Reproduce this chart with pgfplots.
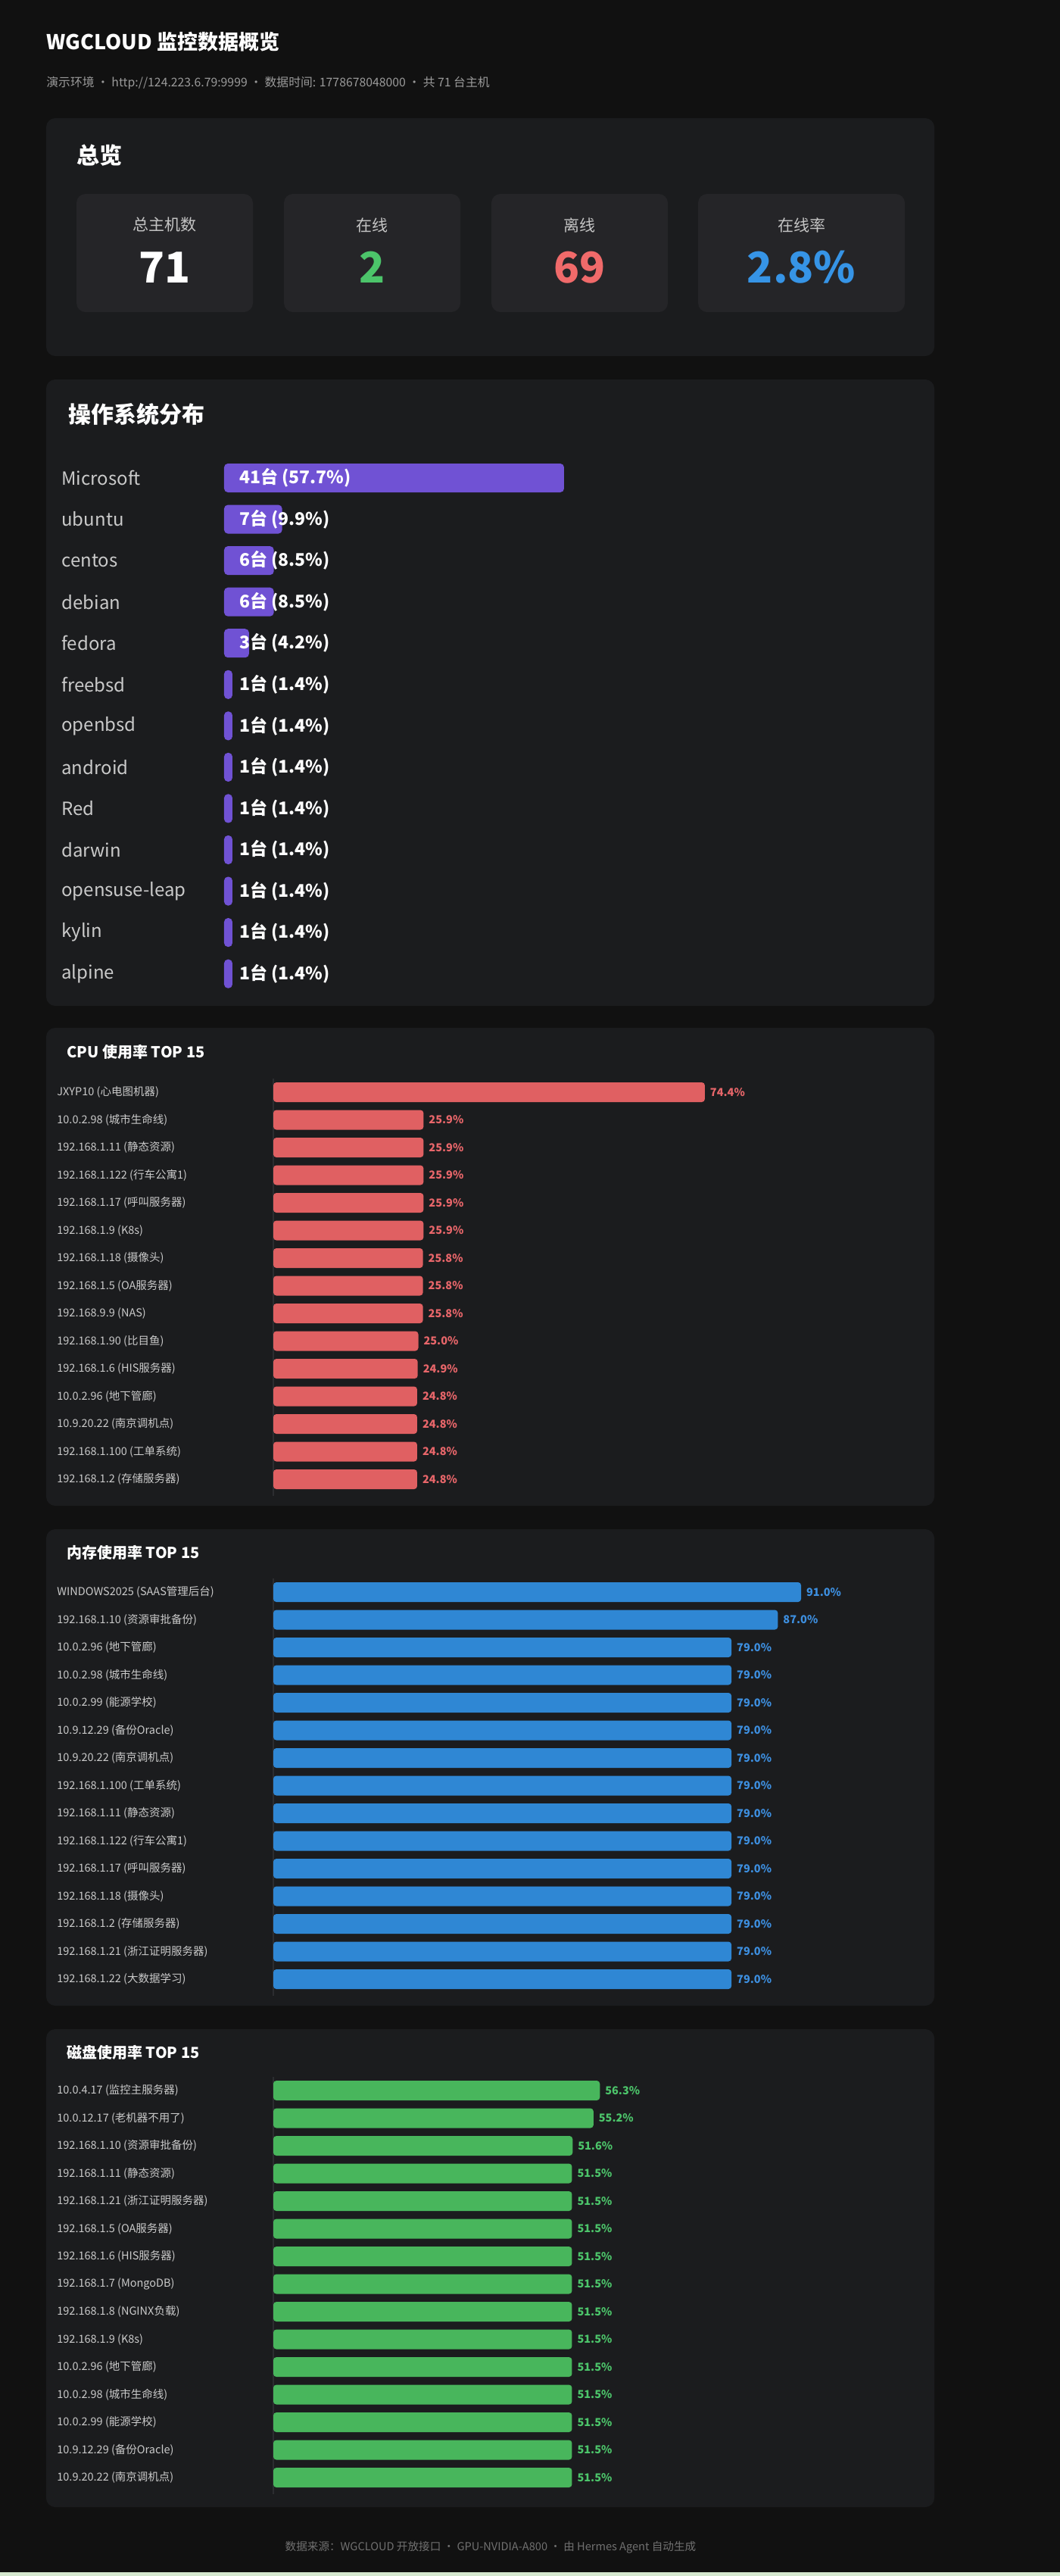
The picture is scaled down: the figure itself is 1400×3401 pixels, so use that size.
\documentclass[border=0pt]{standalone}
\usepackage{fontspec}
\setmainfont{Noto Sans CJK SC}
\usepackage{pgfplots}
\usepackage{pgfplotstable}
\pgfplotsset{compat=1.18}

\definecolor{pagebg}{HTML}{111111}
\definecolor{cardbg}{HTML}{1B1C1E}
\definecolor{boxbg}{HTML}{252528}
\definecolor{subgrey}{HTML}{9A9A9A}
\definecolor{footgrey}{HTML}{707070}
\definecolor{labgrey}{HTML}{CACACA}
\definecolor{boxlab}{HTML}{C4C4C4}
\definecolor{linegrey}{HTML}{2C2D30}
\definecolor{osbar}{HTML}{7052D4}
\definecolor{cpubar}{HTML}{E06062}
\definecolor{cputxt}{HTML}{E8666A}
\definecolor{membar}{HTML}{2F87D4}
\definecolor{memtxt}{HTML}{3D8FE0}
\definecolor{diskbar}{HTML}{48B65C}
\definecolor{disktxt}{HTML}{4CC46A}
\definecolor{okgreen}{HTML}{4CC46A}
\definecolor{badred}{HTML}{F06A6A}
\definecolor{rateblue}{HTML}{3694E6}
\definecolor{stripgreen}{HTML}{D5E8CF}

\newcommand{\fsz}[1]{\fontsize{#1}{#1}\selectfont}

\pgfplotstableread[col sep=comma, row sep=\\]{
i,n,name,lab\\
0,41,Microsoft,41台 (57.7\%)\\
1,7,ubuntu,7台 (9.9\%)\\
2,6,centos,6台 (8.5\%)\\
3,6,debian,6台 (8.5\%)\\
4,3,fedora,3台 (4.2\%)\\
5,1,freebsd,1台 (1.4\%)\\
6,1,openbsd,1台 (1.4\%)\\
7,1,android,1台 (1.4\%)\\
8,1,Red,1台 (1.4\%)\\
9,1,darwin,1台 (1.4\%)\\
10,1,opensuse-leap,1台 (1.4\%)\\
11,1,kylin,1台 (1.4\%)\\
12,1,alpine,1台 (1.4\%)\\
}\osdata

\pgfplotstableread[col sep=comma, row sep=\\]{
i,v,name\\
0,74.4,JXYP10 (心电图机器)\\
1,25.9,10.0.2.98 (城市生命线)\\
2,25.9,192.168.1.11 (静态资源)\\
3,25.9,192.168.1.122 (行车公寓1)\\
4,25.9,192.168.1.17 (呼叫服务器)\\
5,25.9,192.168.1.9 (K8s)\\
6,25.8,192.168.1.18 (摄像头)\\
7,25.8,192.168.1.5 (OA服务器)\\
8,25.8,192.168.9.9 (NAS)\\
9,25.0,192.168.1.90 (比目鱼)\\
10,24.9,192.168.1.6 (HIS服务器)\\
11,24.8,10.0.2.96 (地下管廊)\\
12,24.8,10.9.20.22 (南京调机点)\\
13,24.8,192.168.1.100 (工单系统)\\
14,24.8,192.168.1.2 (存储服务器)\\
}\cpudata

\pgfplotstableread[col sep=comma, row sep=\\]{
i,v,name\\
0,91.0,WINDOWS2025 (SAAS管理后台)\\
1,87.0,192.168.1.10 (资源审批备份)\\
2,79.0,10.0.2.96 (地下管廊)\\
3,79.0,10.0.2.98 (城市生命线)\\
4,79.0,10.0.2.99 (能源学校)\\
5,79.0,10.9.12.29 (备份Oracle)\\
6,79.0,10.9.20.22 (南京调机点)\\
7,79.0,192.168.1.100 (工单系统)\\
8,79.0,192.168.1.11 (静态资源)\\
9,79.0,192.168.1.122 (行车公寓1)\\
10,79.0,192.168.1.17 (呼叫服务器)\\
11,79.0,192.168.1.18 (摄像头)\\
12,79.0,192.168.1.2 (存储服务器)\\
13,79.0,192.168.1.21 (浙江证明服务器)\\
14,79.0,192.168.1.22 (大数据学习)\\
}\memdata

\pgfplotstableread[col sep=comma, row sep=\\]{
i,v,name\\
0,56.3,10.0.4.17 (监控主服务器)\\
1,55.2,10.0.12.17 (老机器不用了)\\
2,51.6,192.168.1.10 (资源审批备份)\\
3,51.5,192.168.1.11 (静态资源)\\
4,51.5,192.168.1.21 (浙江证明服务器)\\
5,51.5,192.168.1.5 (OA服务器)\\
6,51.5,192.168.1.6 (HIS服务器)\\
7,51.5,192.168.1.7 (MongoDB)\\
8,51.5,192.168.1.8 (NGINX负载)\\
9,51.5,192.168.1.9 (K8s)\\
10,51.5,10.0.2.96 (地下管廊)\\
11,51.5,10.0.2.98 (城市生命线)\\
12,51.5,10.0.2.99 (能源学校)\\
13,51.5,10.9.12.29 (备份Oracle)\\
14,51.5,10.9.20.22 (南京调机点)\\
}\diskdata

\pgfplotsset{
  topchart/.style={
    anchor=north west, scale only axis, width=383pt, height=273.75pt,
    xmin=0, xmax=100, ymin=-0.5, ymax=14.5, y dir=reverse,
    axis x line=none, axis y line=left, y axis line style={draw=none},
    ytick={0,...,14}, major tick length=0pt, ytick style={draw=none},
    yticklabel style={anchor=west, inner sep=0pt, xshift=-143pt, text=labgrey, font=\fsz{7.25pt}},
    clip=false, /pgf/number format/assume math mode=true,
  },
  topbar/.style={
    xbar, bar width=13pt, bar shift=0pt, draw=none, fill=#1, rounded corners=2pt,
    point meta=x, nodes near coords align={horizontal},
    nodes near coords={\pgfmathprintnumber[fixed,fixed zerofill,precision=1,assume math mode=true]{\pgfplotspointmeta}\%},
  },
}

\begin{document}
\begin{tikzpicture}
\begin{scope}[x=0.5pt,y=-0.5pt]
\fill[pagebg] (0,0) rectangle (1400,3401);
\fill[stripgreen] (0,3396) rectangle (1400,3401);
% cards
\fill[cardbg, rounded corners=6pt] (61,156) rectangle (1234,470);
\fill[cardbg, rounded corners=6pt] (61,501) rectangle (1234,1328);
\fill[cardbg, rounded corners=6pt] (61,1357) rectangle (1234,1988);
\fill[cardbg, rounded corners=6pt] (61,2019) rectangle (1234,2648);
\fill[cardbg, rounded corners=6pt] (61,2679) rectangle (1234,3310);
% stat boxes
\fill[boxbg, rounded corners=6pt] (101,256) rectangle (334,412);
\fill[boxbg, rounded corners=6pt] (375,256) rectangle (608,412);
\fill[boxbg, rounded corners=6pt] (649,256) rectangle (882,412);
\fill[boxbg, rounded corners=6pt] (922,256) rectangle (1195,412);
% titles
\node[anchor=west, inner sep=0pt, text=white, font=\bfseries\fsz{13.5pt}] at (61,55) {WGCLOUD 监控数据概览};
\node[anchor=west, inner sep=0pt, text=subgrey, font=\fsz{7.9pt}] at (61,110) {演示环境 · http://124.223.6.79:9999 · 数据时间: 1778678048000 · 共 71 台主机};
\node[anchor=west, inner sep=0pt, text=white, font=\bfseries\fsz{15pt}] at (101,205) {总览};
\node[anchor=west, inner sep=0pt, text=white, font=\bfseries\fsz{15pt}] at (90,547) {操作系统分布};
\node[anchor=west, inner sep=0pt, text=white, font=\bfseries\fsz{10pt}] at (88,1389) {CPU 使用率 TOP 15};
\node[anchor=west, inner sep=0pt, text=white, font=\bfseries\fsz{10pt}] at (88,2050) {内存使用率 TOP 15};
\node[anchor=west, inner sep=0pt, text=white, font=\bfseries\fsz{10pt}] at (88,2710) {磁盘使用率 TOP 15};
% stat labels and values
\node[text=boxlab, font=\fsz{10.5pt}] at (217.5,297) {总主机数};
\node[text=boxlab, font=\fsz{10.5pt}] at (491.5,297) {在线};
\node[text=boxlab, font=\fsz{10.5pt}] at (765.5,297) {离线};
\node[text=boxlab, font=\fsz{10.5pt}] at (1058.5,297) {在线率};
\node[text=white, font=\bfseries\fsz{28pt}] at (217.5,353) {71};
\node[text=okgreen, font=\bfseries\fsz{28pt}] at (491.5,353) {2};
\node[text=badred, font=\bfseries\fsz{28pt}] at (765.5,353) {69};
\node[text=rateblue, font=\bfseries\fsz{28pt}] at (1058.5,353) {2.8\%};
% footer
\node[text=footgrey, font=\fsz{7.3pt}] at (648,3363) {数据来源：WGCLOUD 开放接口 · GPU-NVIDIA-A800 · 由 Hermes Agent 自动生成};
\end{scope}

% OS distribution
\begin{axis}[
  at={(148pt,-301.86pt)}, anchor=north west, scale only axis,
  width=224.5pt, height=354.6pt,
  xmin=0, xmax=41, ymin=-0.5, ymax=12.5, y dir=reverse,
  axis x line=none, axis y line=left, y axis line style={draw=none},
  ytick={0,...,12}, yticklabels from table={\osdata}{name},
  major tick length=0pt, ytick style={draw=none},
  yticklabel style={anchor=west, inner sep=0pt, xshift=-107.5pt, text=labgrey, font=\fsz{12pt}},
  clip=false,
]
\addplot[xbar, bar width=19pt, bar shift=0pt, draw=none, fill=osbar, rounded corners=2.5pt] table[x=n, y=i] {\osdata};
\addplot[draw=none, mark=*, mark size=0pt, mark options={draw=none, fill=none, opacity=0}, point meta=explicit symbolic,
  nodes near coords, nodes near coords style={anchor=west, inner sep=0pt, xshift=10pt, text=white, text opacity=1, opacity=1, font=\bfseries\fsz{11.5pt}}]
  table[x expr=0, y=i, meta=lab] {\osdata};
\end{axis}

% CPU
\begin{axis}[topchart, at={(180.5pt,-711.875pt)}, yticklabels from table={\cpudata}{name}]
\draw[linegrey, line width=0.8pt] (axis cs:0,-0.5) -- (axis cs:0,14.6);
\addplot[topbar=cpubar, nodes near coords style={text=cputxt, font=\bfseries\fsz{7.25pt}}] table[x=v, y=i] {\cpudata};
\end{axis}

% Memory
\begin{axis}[topchart, at={(180.5pt,-1041.875pt)}, yticklabels from table={\memdata}{name}]
\draw[linegrey, line width=0.8pt] (axis cs:0,-0.5) -- (axis cs:0,14.6);
\addplot[topbar=membar, nodes near coords style={text=memtxt, font=\bfseries\fsz{7.25pt}}] table[x=v, y=i] {\memdata};
\end{axis}

% Disk
\begin{axis}[topchart, at={(180.5pt,-1370.875pt)}, yticklabels from table={\diskdata}{name}]
\draw[linegrey, line width=0.8pt] (axis cs:0,-0.5) -- (axis cs:0,14.6);
\addplot[topbar=diskbar, nodes near coords style={text=disktxt, font=\bfseries\fsz{7.25pt}}] table[x=v, y=i] {\diskdata};
\end{axis}
\end{tikzpicture}
\end{document}
